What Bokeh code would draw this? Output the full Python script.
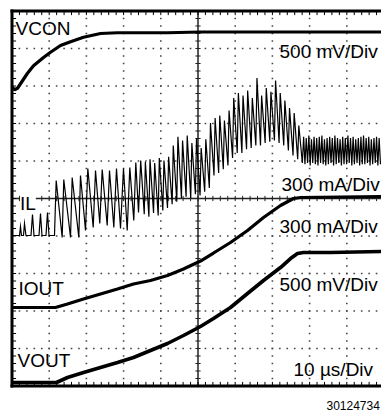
import numpy as np
from bokeh.plotting import figure
from bokeh.models import Range1d, Label
from bokeh.embed import file_html
from bokeh.resources import INLINE

# ---------------- data ----------------
# time in microseconds (10 us/div)
vcon_t = [0.0, 0.67, 1.48, 2.28, 4.17, 5.78, 8.47, 10.35, 13.04, 15.73, 19.22, 23.79,
          28.36, 32.66, 41.8, 50.67, 64.1, 77.55, 99.33]
vcon_v = [0.99, 0.95, 0.97, 1.03, 1.17, 1.27, 1.38, 1.45, 1.54, 1.59, 1.65, 1.70,
          1.71, 1.71, 1.71, 1.72, 1.72, 1.72, 1.72]

vout_t = [0.0, 11.96, 14.92, 19.22, 23.79, 28.36, 32.66, 37.23, 41.8, 46.1, 50.67, 54.17,
          58.74, 63.31, 67.61, 72.18, 74.87, 76.75, 78.36, 85.62, 99.33]
vout_v = [0.0, 0.0, 0.067, 0.133, 0.2, 0.267, 0.333, 0.427, 0.52, 0.627, 0.747, 0.853,
          1.0, 1.187, 1.36, 1.533, 1.653, 1.72, 1.733, 1.733, 1.747]

iout_t = [0.0, 11.69, 14.92, 19.22, 23.79, 28.36, 32.66, 37.23, 41.8, 46.1, 50.67, 54.17,
          58.74, 63.31, 67.61, 72.18, 75.67, 77.55, 99.33]
iout_a = [0.0, 0.0, 0.028, 0.068, 0.108, 0.148, 0.188, 0.216, 0.256, 0.308, 0.372, 0.436,
          0.52, 0.616, 0.72, 0.816, 0.872, 0.88, 0.888]

# inductor current: start-up (DCM pulses, then first switching cycles)
il_start_t = [0.13, 2.02, 2.28, 2.55, 3.09, 3.36, 3.76, 5.11, 5.51, 5.91, 7.26, 7.66, 8.06,
              9.14, 9.54, 9.95, 11.42, 11.88, 13.49, 13.92, 15.73, 16.18, 17.96, 18.41,
              19.76, 20.38, 21.83, 22.45, 23.60, 24.25, 25.59, 26.21, 27.37, 28.09, 29.17,
              29.97, 30.97, 31.67, 32.74, 33.28, 34.01]
il_start_a = [0.0, 0.0, 0.072, 0.0, 0.0, 0.096, 0.0, 0.0, 0.168, 0.0, 0.0, 0.176, 0.0,
              0.0, 0.184, 0.0, 0.0, 0.44, -0.016, 0.448, -0.016, 0.464, -0.016, 0.48,
              0.04, 0.536, 0.064, 0.52, 0.096, 0.528, 0.08, 0.52, 0.064, 0.536, 0.056,
              0.536, 0.04, 0.544, 0.12, 0.584, 0.184]
# inductor current: ripple peaks and valleys
il_peak_t = [34.6, 35.85, 37.1, 38.35, 39.6, 40.85, 42.1, 43.35, 44.6, 45.85, 47.1, 48.35,
             49.6, 50.85, 52.1, 53.35, 54.6, 55.85, 57.1, 58.35, 59.6, 60.85, 62.1, 63.35,
             64.6, 65.85, 67.1, 68.35, 69.6, 70.85, 72.1, 73.35, 74.6, 75.85, 77.1,
             78.4, 79.1, 79.8, 80.5, 81.2, 81.9, 82.6, 83.3, 84.0, 84.7, 85.4, 86.1, 86.8,
             87.5, 88.2, 88.9, 89.6, 90.3, 91.0, 91.7, 92.4, 93.1, 93.8, 94.5, 95.2, 95.9,
             96.6, 97.3, 98.0, 98.7]
il_peak_a = [0.60, 0.59, 0.61, 0.58, 0.62, 0.60, 0.63, 0.72, 0.79, 0.76, 0.80, 0.74,
             0.78, 0.70, 0.77, 0.90, 0.94, 0.96, 0.92, 1.00, 1.10, 1.14, 1.12, 1.16,
             1.10, 1.26, 1.12, 1.18, 1.15, 1.24, 1.14, 1.08, 1.02, 0.98, 0.88,
             0.79, 0.78, 0.80, 0.77, 0.79, 0.78, 0.79, 0.80, 0.77, 0.78, 0.79, 0.78, 0.80,
             0.78, 0.77, 0.79, 0.78, 0.80, 0.78, 0.79, 0.77, 0.78, 0.79, 0.80, 0.78, 0.79,
             0.77, 0.78, 0.79, 0.78]
il_valley_t = [35.55, 36.8, 38.05, 39.3, 40.55, 41.8, 43.05, 44.3, 45.55, 46.8, 48.05, 49.3,
               50.55, 51.8, 53.05, 54.3, 55.55, 56.8, 58.05, 59.3, 60.55, 61.8, 63.05, 64.3,
               65.55, 66.8, 68.05, 69.3, 70.55, 71.8, 73.05, 74.3, 75.55, 76.8, 78.05,
               78.75, 79.45, 80.15, 80.85, 81.55, 82.25, 82.95, 83.65, 84.35, 85.05, 85.75,
               86.45, 87.15, 87.85, 88.55, 89.25, 89.95, 90.65, 91.35, 92.05, 92.75, 93.45,
               94.15, 94.85, 95.55, 96.25, 96.95, 97.65, 98.35, 99.05]
il_valley_a = [0.17, 0.15, 0.18, 0.16, 0.20, 0.22, 0.25, 0.27, 0.30, 0.31, 0.30, 0.33,
               0.32, 0.35, 0.38, 0.48, 0.50, 0.53, 0.56, 0.62, 0.66, 0.66, 0.69, 0.70,
               0.72, 0.72, 0.74, 0.75, 0.76, 0.74, 0.72, 0.68, 0.64, 0.61, 0.58,
               0.57, 0.58, 0.56, 0.58, 0.57, 0.56, 0.58, 0.57, 0.56, 0.57, 0.58, 0.56,
               0.57, 0.58, 0.56, 0.57, 0.57, 0.58, 0.56, 0.57, 0.58, 0.56, 0.57, 0.57,
               0.58, 0.56, 0.57, 0.58, 0.56, 0.57]

# channel scales (per division) and ground levels (divisions above screen bottom)
VCON_SCALE, VCON_GND = 0.5, 6.0
IL_SCALE, IL_GND = 0.3, 4.013
IOUT_SCALE, IOUT_GND = 0.3, 2.093
VOUT_SCALE, VOUT_GND = 0.5, 0.093

# ---------------- geometry ----------------
W, H = 381, 412
PX_PER_US = 3.72      # 10 us/div -> 37.2 px/div
PX_PER_DIV = 37.5
X0 = 11.5             # canvas px of t = 0
Y0 = 385.5            # canvas px (from top) of screen bottom (div 0)


def tx(px):   # page x -> us
    return (px - X0) / PX_PER_US


def dy(py):   # page y -> div
    return (Y0 - py) / PX_PER_DIV


p = figure(width=W, height=H, output_backend="svg", toolbar_location=None,
           x_range=Range1d(-X0 / PX_PER_US, (W - X0) / PX_PER_US),
           y_range=Range1d((Y0 - H) / PX_PER_DIV, Y0 / PX_PER_DIV),
           x_axis_location=None, y_axis_location=None, min_border=0,
           outline_line_color=None, background_fill_color="white",
           border_fill_color="white")
p.xgrid.visible = False
p.ygrid.visible = False

# dotted graticule
dot_x, dot_y = [], []
minor_t = np.arange(2, 100, 2)
minor_d = np.arange(1, 50) * 0.2
for k in [1, 2, 3, 4, 6, 7, 8, 9]:
    dot_x += [k * 10] * len(minor_d)
    dot_y += list(minor_d)
    dot_x += list(minor_t)
    dot_y += [k] * len(minor_t)
p.scatter(dot_x, dot_y, marker="square", size=1.6, fill_color="#444444",
          line_color=None)

# center axes with minor ticks
p.segment(x0=[50, 0], y0=[0, 5], x1=[50, 100], y1=[10, 5], line_color="#222222",
          line_width=1.5)
tl = 0.07
p.segment(x0=minor_t, y0=5 - tl, x1=minor_t, y1=5 + tl, line_color="#222222", line_width=1)
p.segment(x0=50 - 0.7, y0=minor_d, x1=50 + 0.7, y1=minor_d, line_color="#222222",
          line_width=1)
# edge ticks
el = 0.11
p.segment(x0=minor_t, y0=10, x1=minor_t, y1=10 - el, line_color="black", line_width=1)
p.segment(x0=minor_t, y0=0, x1=minor_t, y1=el, line_color="black", line_width=1)
p.segment(x0=0, y0=minor_d, x1=1.1, y1=minor_d, line_color="black", line_width=1)

# traces
il_t = np.array(il_start_t + il_peak_t + il_valley_t)
il_a = np.array(il_start_a + il_peak_a + il_valley_a)
order = np.argsort(il_t, kind="stable")
il_t, il_a = il_t[order], il_a[order]
p.line(il_t, IL_GND + il_a / IL_SCALE, line_color="black", line_width=1.2,
       line_join="miter")

p.line(vcon_t, VCON_GND + np.array(vcon_v) / VCON_SCALE, line_color="black", line_width=3.2)
p.line(iout_t, IOUT_GND + np.array(iout_a) / IOUT_SCALE, line_color="black", line_width=3.2)
p.line(vout_t, VOUT_GND + np.array(vout_v) / VOUT_SCALE, line_color="black", line_width=3.6)

# frame
p.segment(x0=[0, 0, 0], y0=[0, 10, 0], x1=[0, 100, 100], y1=[10, 10, 0],
          line_color="black", line_width=3, line_cap="square")

# labels (y given as the bottom of the text box, in page px)
FONT = "Liberation Sans"
labels = [
    ("VCON", 15, 28, None),
    ("IL", 19.5, 203, "white"),
    ("IOUT", 18, 288, None),
    ("VOUT", 17, 360, None),
    ("500 mV/Div", 279, 51, None),
    ("300 mA/Div", 281, 184, None),
    ("300 mA/Div", 279, 226, None),
    ("500 mV/Div", 279, 284, None),
    ("10 µs/Div", 293, 369, None),
]
for txt, px, py, bg in labels:
    p.add_layout(Label(x=tx(px), y=dy(py), text=txt, text_font=FONT,
                       text_font_size="19px", text_color="black",
                       text_baseline="alphabetic", background_fill_color=bg))
p.add_layout(Label(x=tx(326), y=dy(405), text="30124734", text_font=FONT,
                   text_font_size="12px", text_color="black",
                   text_baseline="alphabetic"))

open("out.html", "w").write(file_html(p, INLINE))
